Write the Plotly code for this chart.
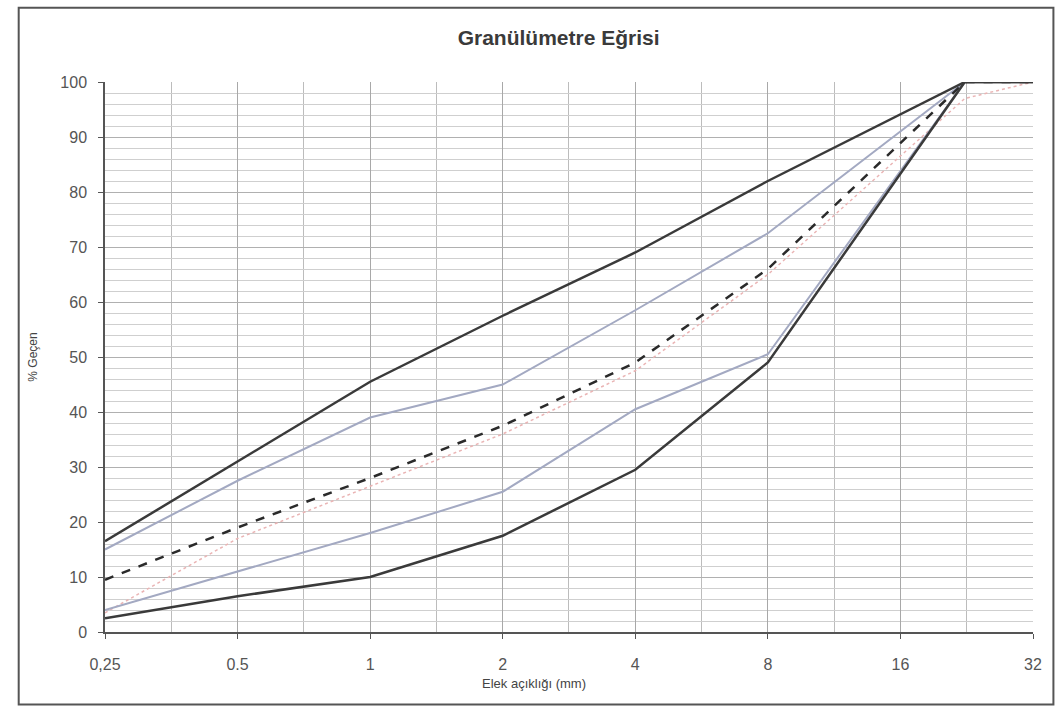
import plotly.graph_objects as go
import math

# Sieve openings (mm)
sieve = [0.25, 0.5, 1, 2, 4, 8, 22.4, 32]
tick_vals = [0.25, 0.5, 1, 2, 4, 8, 16, 32]
tick_text = ["0,25", "0.5", "1", "2", "4", "8", "16", "32"]
half_octaves = [0.354, 0.707, 1.414, 2.828, 5.657, 11.31, 22.63]

# Passing percentages
upper_limit = [16.5, 31, 45.5, 57.5, 69, 82, 100, 100]
upper_mid = [15, 27.5, 39, 45, 58.5, 72.5, 100, 100]
design = [9.5, 19, 28, 37.5, 49, 66, 100, 100]
mixture = [3.5, 17, 26.5, 36, 47.5, 65, 97, 100]
lower_mid = [4, 11, 18, 25.5, 40.5, 50.5, 100, 100]
lower_limit = [2.5, 6.5, 10, 17.5, 29.5, 49, 100, 100]

fig = go.Figure()
fig.add_trace(go.Scatter(x=sieve, y=mixture, mode="lines",
                         line=dict(color="#eab4b4", width=1.5, dash="dot")))
fig.add_trace(go.Scatter(x=sieve, y=upper_mid, mode="lines",
                         line=dict(color="#a3a9c2", width=2)))
fig.add_trace(go.Scatter(x=sieve, y=lower_mid, mode="lines",
                         line=dict(color="#a3a9c2", width=2)))
fig.add_trace(go.Scatter(x=sieve, y=design, mode="lines",
                         line=dict(color="#2a2a2a", width=2.5, dash="dash")))
fig.add_trace(go.Scatter(x=sieve, y=upper_limit, mode="lines",
                         line=dict(color="#3a3a3a", width=2.5)))
fig.add_trace(go.Scatter(x=sieve, y=lower_limit, mode="lines",
                         line=dict(color="#3a3a3a", width=2.5)))

fig.update_layout(
    width=1060, height=709,
    margin=dict(l=105, r=27, t=82, b=77),
    paper_bgcolor="white", plot_bgcolor="white",
    showlegend=False,
    font=dict(family="Liberation Sans, Arial, sans-serif", color="#444"),
    title=dict(text="<b>Granülümetre Eğrisi</b>", x=0.527, xanchor="center",
               y=0.947, yanchor="middle",
               font=dict(size=21, color="#3a3a3a")),
    xaxis=dict(type="log", range=[math.log10(0.25), math.log10(32)],
               tickmode="array", tickvals=tick_vals, ticktext=tick_text,
               tickfont=dict(size=16, color="#555"),
               showgrid=True, gridcolor="#a8a8a8", gridwidth=1,
               showline=True, linecolor="#555", linewidth=1.5,
               ticks="outside", ticklen=5, tickcolor="#555",
               zeroline=False, ticklabelstandoff=12,
               minor=dict(tickmode="array", tickvals=half_octaves,
                          showgrid=True, gridcolor="#bcbcbc", gridwidth=1)),
    yaxis=dict(range=[0, 100], tickmode="linear", dtick=10,
               tickfont=dict(size=16, color="#555"),
               showgrid=True, gridcolor="#b0b0b0", gridwidth=1,
               showline=True, linecolor="#555", linewidth=1.5,
               ticks="outside", ticklen=5, tickcolor="#555",
               zeroline=False, ticklabelstandoff=8,
               title=dict(text="% Geçen", font=dict(size=12, color="#444"),
                          standoff=20),
               minor=dict(dtick=2, showgrid=True, gridcolor="#cfcfcf",
                          gridwidth=1)),
)

fig.add_annotation(text="Elek açıklığı (mm)", xref="paper", yref="paper",
                   x=0.462, y=-0.11, showarrow=False,
                   font=dict(size=13, color="#444"))

fig.add_shape(type="rect", xref="paper", yref="paper",
              x0=-0.093, x1=1.022, y0=-0.132, y1=1.135,
              line=dict(color="#555", width=2))

fig.write_html("out.html")
